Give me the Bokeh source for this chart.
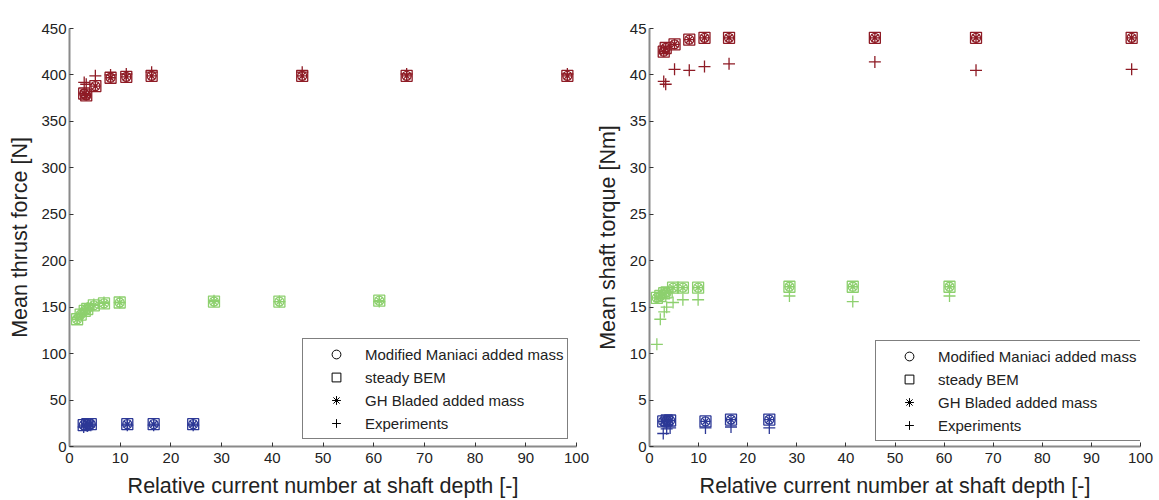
from bokeh.plotting import figure
from bokeh.layouts import row
from bokeh.models import Legend, LegendItem, Range1d, FixedTicker
from bokeh.embed import file_html
from bokeh.resources import INLINE

# ---------------- data ----------------
x_red = [2.9, 3.3, 5.1, 8.1, 11.2, 16.2, 45.9, 66.5, 98.2]
x_green = [1.5, 2.2, 3.0, 3.5, 4.8, 6.8, 9.9, 28.5, 41.4, 61.1]
x_blue = [2.8, 3.5, 4.2, 11.4, 16.6, 24.4]

# thrust [N]
thrust_red_model = [380, 378, 388, 397, 398, 399, 399, 399, 399]
thrust_red_exp = [392, 390, 399, 400, 401, 403, 403, 401, 401]
thrust_green_model = [137, 142, 146, 148, 152, 154, 155, 156, 156, 157]
thrust_green_exp = [139, 143, 147, 149, 153, 155, 155, 157, 156, 156]
thrust_blue_model = [23, 24, 24, 24, 24, 24]
thrust_blue_exp = [21, 22, 23, 23, 23, 23]

# torque [Nm]
torque_red_model = [42.5, 42.9, 43.3, 43.8, 44.0, 44.0, 44.0, 44.0, 44.0]
torque_red_exp = [39.3, 39.0, 40.6, 40.5, 40.9, 41.2, 41.4, 40.5, 40.6]
torque_green_model = [16.0, 16.2, 16.5, 16.6, 17.1, 17.1, 17.1, 17.2, 17.2, 17.2]
torque_green_exp = [11.0, 13.7, 14.5, 15.0, 15.5, 15.8, 15.8, 16.2, 15.6, 16.2]
torque_blue_model = [2.7, 2.8, 2.8, 2.7, 2.9, 2.9]
torque_blue_exp = [1.4, 1.9, 2.0, 2.0, 2.1, 2.0]

x_ticks = [0, 10, 20, 30, 40, 50, 60, 70, 80, 90, 100]
thrust_ticks = [0, 50, 100, 150, 200, 250, 300, 350, 400, 450]
torque_ticks = [0, 5, 10, 15, 20, 25, 30, 35, 40, 45]

legend_labels = ["Modified Maniaci added mass", "steady BEM",
                 "GH Bladed added mass", "Experiments"]

RED = "#8E1B25"
GREEN = "#8DD06E"
BLUE = "#2C3896"
FONT = "Liberation Sans"

MARKERS = [("circle", 9), ("square", 11), ("asterisk", 10), ("cross", 12)]
NAN = [float("nan")]


def make_fig(width, height, left, right, top, bottom, ymax, yticks, ylabel, ylab_standoff,
             series, legend_loc):
    p = figure(width=width, height=height, output_backend="svg", toolbar_location=None,
               x_range=Range1d(0, 100), y_range=Range1d(0, ymax),
               min_border_left=left, min_border_right=right,
               min_border_top=top, min_border_bottom=bottom)
    p.outline_line_color = None
    p.xgrid.visible = False
    p.ygrid.visible = False
    p.background_fill_color = "white"
    p.border_fill_color = "white"

    for xs, model, exp, col in series:
        for mk, sz in MARKERS[:3]:
            p.scatter(x=xs, y=model, marker=mk, size=sz, line_color=col,
                      fill_color=None, line_width=1.3)
        p.scatter(x=xs, y=exp, marker="cross", size=12, line_color=col, line_width=1.3)

    items = []
    for (mk, sz), lab in zip(MARKERS, legend_labels):
        r = p.scatter(x=NAN, y=NAN, marker=mk, size=sz, line_color="black",
                      fill_color=None, line_width=1)
        items.append(LegendItem(label=lab, renderers=[r]))
    leg = Legend(items=items, location=legend_loc)
    leg.label_text_font = FONT
    leg.label_text_font_size = "15px"
    leg.label_text_color = "#222222"
    leg.padding = 4
    leg.margin = 0
    leg.glyph_width = 58
    leg.glyph_height = 22
    leg.label_height = 22
    leg.label_width = 196
    leg.label_standoff = -2
    leg.spacing = 1
    leg.border_line_color = "black"
    leg.border_line_width = 1
    leg.background_fill_alpha = 1
    p.add_layout(leg, "center")

    for ax in (p.xaxis[0], p.yaxis[0]):
        ax.axis_line_color = "#8a8a8a"
        ax.axis_line_width = 2
        ax.major_tick_line_color = "#333333"
        ax.major_tick_in = 4
        ax.major_tick_out = 0
        ax.minor_tick_line_color = None
        ax.major_label_text_font = FONT
        ax.major_label_text_font_size = "15px"
        ax.major_label_text_color = "#222222"
        ax.axis_label_text_font = FONT
        ax.axis_label_text_font_size = "21.5px"
        ax.axis_label_text_font_style = "normal"
        ax.axis_label_text_color = "#222222"
    p.xaxis.ticker = FixedTicker(ticks=x_ticks)
    p.yaxis.ticker = FixedTicker(ticks=yticks)
    p.xaxis.axis_label = "Relative current number at shaft depth [-]"
    p.yaxis.axis_label = ylabel
    p.xaxis.major_label_standoff = 6
    p.xaxis.axis_label_standoff = 8
    p.yaxis.major_label_standoff = 3
    p.yaxis.axis_label_standoff = ylab_standoff
    return p


p1 = make_fig(590, 500, 69, 14, 18, 52, 450, thrust_ticks, "Mean thrust force [N]", 6,
              [(x_red, thrust_red_model, thrust_red_exp, RED),
               (x_green, thrust_green_model, thrust_green_exp, GREEN),
               (x_blue, thrust_blue_model, thrust_blue_exp, BLUE)],
              (233, 7))
p2 = make_fig(569, 500, 59, 19, 28, 54, 45, torque_ticks, "Mean shaft torque [Nm]", 7,
              [(x_red, torque_red_model, torque_red_exp, RED),
               (x_green, torque_green_model, torque_green_exp, GREEN),
               (x_blue, torque_blue_model, torque_blue_exp, BLUE)],
              (226, 5))

layout = row(p1, p2)
open("out.html", "w").write(file_html(layout, INLINE))
